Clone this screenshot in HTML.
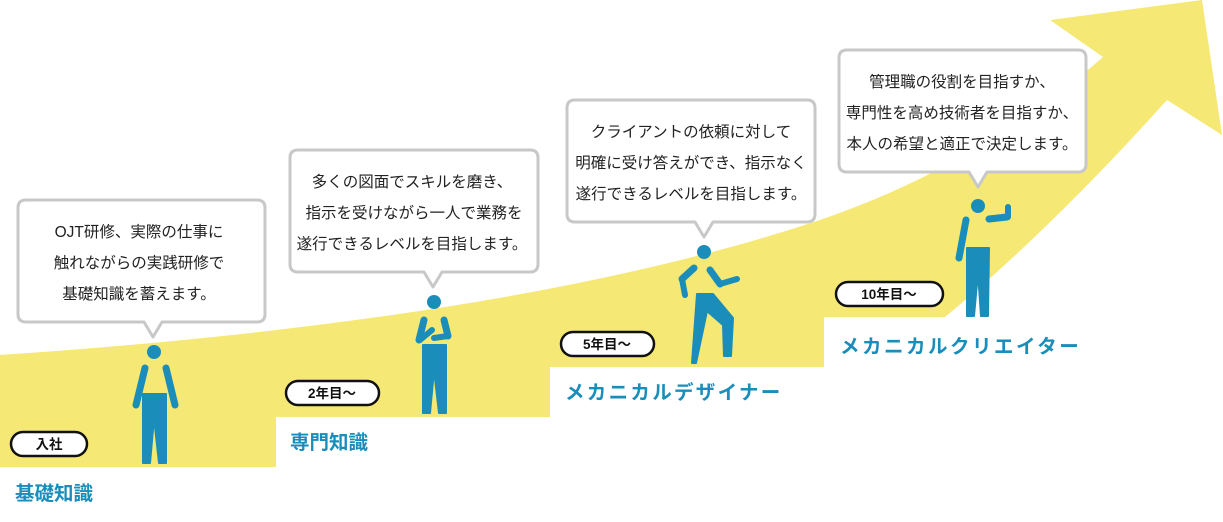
<!DOCTYPE html>
<html><head><meta charset="utf-8"><style>
html,body{margin:0;padding:0;background:#fff;}
svg text{font-family:"Liberation Sans","Noto Sans CJK JP",sans-serif;}
</style></head><body>
<svg width="1223" height="517" viewBox="0 0 1223 517" xmlns="http://www.w3.org/2000/svg">
<path d="M0,355 Q520,320 820,220 Q980,165 1103,57 L1050,20 L1202,0 L1222,135 L1167,100 Q1050,230 945,317 L824,317 L824,367 L550,367 L550,417 L276,417 L276,467 L0,467 Z" fill="#f5e874"/>
<g fill="#fff" stroke="#c8c8c8" stroke-width="3" stroke-linejoin="round">
<path d="M26,200 H257 Q265,200 265,208 V314 Q265,322 257,322 H162 L153,337 L144,322 H26 Q18,322 18,314 V208 Q18,200 26,200 Z"/>
<path d="M298,150 H530 Q538,150 538,158 V264 Q538,272 530,272 H442 L433,287 L424,272 H298 Q290,272 290,264 V158 Q290,150 298,150 Z"/>
<path d="M575,100 H807 Q815,100 815,108 V214 Q815,222 807,222 H713 L704,237 L695,222 H575 Q567,222 567,214 V108 Q567,100 575,100 Z"/>
<path d="M847,50 H1078 Q1086,50 1086,58 V164 Q1086,172 1078,172 H987 L978,187 L969,172 H847 Q839,172 839,164 V58 Q839,50 847,50 Z"/>
</g>
<g font-size="15.5" fill="#222" text-anchor="middle">
<text x="139" y="237">OJT研修、実際の仕事に</text>
<text x="139" y="268">触れながらの実践研修で</text>
<text x="139" y="299">基礎知識を蓄えます。</text>
<text x="412" y="187">多くの図面でスキルを磨き、</text>
<text x="414" y="218">指示を受けながら一人で業務を</text>
<text x="412" y="249">遂行できるレベルを目指します。</text>
<text x="691" y="137">クライアントの依頼に対して</text>
<text x="691" y="168">明確に受け答えができ、指示なく</text>
<text x="691" y="199">遂行できるレベルを目指します。</text>
<text x="962" y="87">管理職の役割を目指すか、</text>
<text x="962" y="118">専門性を高め技術者を目指すか、</text>
<text x="962" y="149">本人の希望と適正で決定します。</text>
</g>
<g fill="#fff" stroke="#111" stroke-width="2.5">
<rect x="11" y="432" width="76" height="24" rx="12"/>
<rect x="286" y="381" width="93" height="24" rx="12"/>
<rect x="561" y="332" width="93" height="24" rx="12"/>
<rect x="836" y="282" width="107" height="24" rx="12"/>
</g>
<g font-size="13.5" font-weight="bold" fill="#111" text-anchor="middle">
<text x="49" y="449">入社</text>
<text x="332" y="398">2年目〜</text>
<text x="607" y="349">5年目〜</text>
<text x="889" y="299">10年目〜</text>
</g>
<g font-size="19.5" font-weight="bold" fill="#1a8dbb">
<text x="15" y="500">基礎知識</text>
<text x="290" y="449">専門知識</text>
<text x="565" y="399" letter-spacing="2.3">メカニカルデザイナー</text>
<text x="840" y="353" letter-spacing="2.5">メカニカルクリエイター</text>
</g>
<g fill="#1a8dbb" stroke="#1a8dbb" stroke-linecap="round">
<circle cx="154" cy="352" r="7" stroke="none"/>
<line x1="145" y1="368" x2="136" y2="405" stroke-width="7"/>
<line x1="166" y1="368" x2="175" y2="405" stroke-width="7"/>
<path d="M143,394 H166 L166,463 H159 L154,418 L150,463 H143 Z" stroke-width="2" stroke-linejoin="round"/>
<circle cx="434" cy="302" r="7" stroke="none"/>
<line x1="424" y1="320" x2="419" y2="340" stroke-width="7"/>
<line x1="420" y1="340" x2="432" y2="330" stroke-width="6"/>
<line x1="444" y1="320" x2="448" y2="336" stroke-width="7"/>
<line x1="448" y1="336" x2="434" y2="338" stroke-width="6"/>
<path d="M423,345 H446 L446,413 H439 L434,370 L430,413 H423 Z" stroke-width="2" stroke-linejoin="round"/>
<circle cx="704" cy="252" r="7" stroke="none"/>
<line x1="694" y1="268" x2="682" y2="279" stroke-width="7"/>
<line x1="682" y1="279" x2="685" y2="295" stroke-width="6"/>
<line x1="710" y1="270" x2="720" y2="284" stroke-width="7"/>
<line x1="720" y1="284" x2="737" y2="279" stroke-width="6"/>
<path d="M697,294 H713 L733,318 L731,356 H724 L723,325 L707,311 L696,363 H692 Z" stroke-width="2" stroke-linejoin="round"/>
<circle cx="978" cy="206" r="7" stroke="none"/>
<line x1="966" y1="220" x2="959" y2="258" stroke-width="7"/>
<line x1="989" y1="219" x2="1007" y2="217" stroke-width="7"/>
<line x1="1008" y1="217" x2="1008" y2="207" stroke-width="6"/>
<path d="M967,248 H989 L988,316 H981 L978,272 L974,316 H967 Z" stroke-width="2" stroke-linejoin="round"/>
</g>
</svg>
</body></html>
